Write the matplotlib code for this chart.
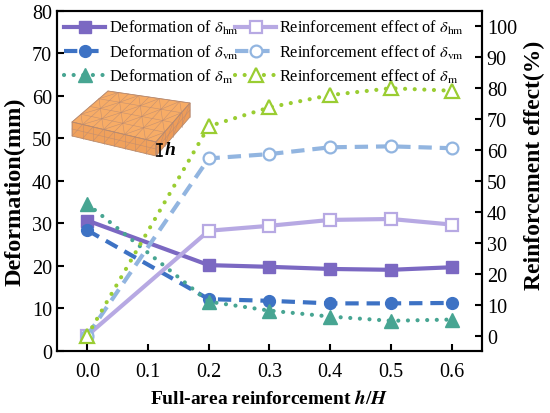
import numpy as np
import matplotlib
matplotlib.use("Agg")
from matplotlib import pyplot as plt
from matplotlib.patches import Polygon

plt.rcParams['font.family'] = ['Liberation Serif', 'DejaVu Serif']
plt.rcParams['mathtext.fontset'] = 'stix'

# data
h_ratio = [0.0, 0.2, 0.3, 0.4, 0.5, 0.6]
def_hm = [30.7, 20.2, 19.8, 19.3, 19.1, 19.7]
def_vm = [28.4, 12.2, 11.8, 11.2, 11.2, 11.3]
def_m = [34.6, 11.6, 9.5, 8.1, 7.1, 7.4]
eff_hm = [0.0, 33.9, 35.5, 37.4, 37.7, 35.9]
eff_vm = [0.0, 57.3, 58.7, 60.9, 61.2, 60.6]
eff_m = [0.0, 67.7, 73.8, 77.8, 80.0, 79.2]
x_ticks = [0.0, 0.1, 0.2, 0.3, 0.4, 0.5, 0.6]

c_hm, c_hm_l = '#7B68C2', '#B7A9E3'
c_vm, c_vm_l = '#3D72C4', '#92B5E0'
c_m, c_m_l = '#47A592', '#9ACD32'

fig = plt.figure(figsize=(5.5, 4.14), dpi=100)
ax = fig.add_axes([0.1036, 0.1498, 0.7727, 0.8213])
ax2 = ax.twinx()

lw = 3
ms = 8.5
dot = (0, (0.01, 2.3))
dash = (0, (3.2, 1.9))

l1, = ax.plot(h_ratio, def_hm, color=c_hm, lw=lw, marker='s', ms=ms)
l2, = ax.plot(h_ratio, def_vm, color=c_vm, lw=lw, marker='o', ms=ms, linestyle=dash)
l3, = ax.plot(h_ratio, def_m, color=c_m, lw=lw, marker='^', ms=ms + 1,
              linestyle=dot, dash_capstyle='round')
l4, = ax2.plot(h_ratio, eff_hm, color=c_hm_l, lw=lw, marker='s', ms=ms,
               mfc='white', mew=1.6)
l5, = ax2.plot(h_ratio, eff_vm, color=c_vm_l, lw=lw, marker='o', ms=ms,
               mfc='white', mew=1.6, linestyle=dash)
l6, = ax2.plot(h_ratio, eff_m, color=c_m_l, lw=lw, marker='^', ms=ms + 2,
               mfc='white', mew=1.6, linestyle=dot, dash_capstyle='round')

ax.set_xlim(-0.05, 0.65)
ax.set_ylim(0, 80)
ax2.set_ylim(-5, 105)
ax.set_xticks(x_ticks)
ax.set_xticklabels([f'{v:.1f}' for v in x_ticks])
ax.set_yticks(range(0, 81, 10))
ax2.set_yticks(range(0, 101, 10))

for a in (ax, ax2):
    for s in a.spines.values():
        s.set_linewidth(1.5)
    a.tick_params(direction='in', length=5, width=1.5, labelsize=14.5)
ax.tick_params(axis='x', pad=8)

ax.set_xlabel(r'Full-area reinforcement $\mathbfit{h}$/$\mathbfit{H}$',
              fontsize=14, fontweight='bold', labelpad=6)
ax.set_ylabel('Deformation(mm)', fontsize=17.5, fontweight='bold')
ax2.set_ylabel('Reinforcement effect(%)', fontsize=17, fontweight='bold')
ax.yaxis.set_label_coords(-0.073, 0.47)
ax2.yaxis.set_label_coords(1.099, 0.55)

labels = [r'Deformation of $\delta_{\rm hm}$', r'Deformation of $\delta_{\rm vm}$',
          r'Deformation of $\delta_{\rm m}$',
          r'Reinforcement effect of $\delta_{\rm hm}$',
          r'Reinforcement effect of $\delta_{\rm vm}$',
          r'Reinforcement effect of $\delta_{\rm m}$']
ax2.legend([l1, l2, l3, l4, l5, l6], labels, ncol=2, loc='upper left',
           bbox_to_anchor=(0.0, 1.0), frameon=False, fontsize=11.8,
           handlelength=2.5, handletextpad=0.2, columnspacing=-0.2,
           labelspacing=0.38, borderaxespad=0.2, borderpad=0.25)

# inset sketch of the reinforced slab (pixel coordinates)
ov = fig.add_axes([0, 0, 1, 1], zorder=5)
ov.set_xlim(0, 550)
ov.set_ylim(414, 0)
ov.axis('off')
A, B, C, D = map(np.array, [(72, 123), (108, 92), (190, 104), (156, 143)])
drop = 14
Ad, Cd, Dd = A + (0, drop), C + (0, drop), D + (0, drop)
ov.add_patch(Polygon([A, B, C, D], closed=True, fc='#F7AC66', ec='#B98A6A', lw=0.6))
ov.add_patch(Polygon([A, D, Dd, Ad], closed=True, fc='#F0A15C', ec='#B98A6A', lw=0.6))
ov.add_patch(Polygon([D, C, Cd, Dd], closed=True, fc='#EE9C58', ec='#B98A6A', lw=0.6))


def bil(p00, p10, p11, p01, u, v):
    return (1 - u) * (1 - v) * p00 + u * (1 - v) * p10 + u * v * p11 + (1 - u) * v * p01


mesh_kw = dict(color='#B98A72', lw=0.4, alpha=0.8)
nu, nv = 8, 4
for i in range(nu + 1):
    p, q = bil(A, D, C, B, i / nu, 0), bil(A, D, C, B, i / nu, 1)
    ov.plot([p[0], q[0]], [p[1], q[1]], **mesh_kw)
for j in range(nv + 1):
    p, q = bil(A, D, C, B, 0, j / nv), bil(A, D, C, B, 1, j / nv)
    ov.plot([p[0], q[0]], [p[1], q[1]], **mesh_kw)
for i in range(nu):
    for j in range(nv):
        if (i + j) % 2:
            p, q = bil(A, D, C, B, i / nu, j / nv), bil(A, D, C, B, (i + 1) / nu, (j + 1) / nv)
        else:
            p, q = bil(A, D, C, B, (i + 1) / nu, j / nv), bil(A, D, C, B, i / nu, (j + 1) / nv)
        ov.plot([p[0], q[0]], [p[1], q[1]], **mesh_kw)
for face, n in (((A, D, Dd, Ad), nu), ((D, C, Cd, Dd), nv)):
    P0, P1, P2, P3 = face
    for i in range(n + 1):
        p, q = bil(P0, P1, P2, P3, i / n, 0), bil(P0, P1, P2, P3, i / n, 1)
        ov.plot([p[0], q[0]], [p[1], q[1]], **mesh_kw)
    for i in range(n):
        p, q = bil(P0, P1, P2, P3, i / n, 1), bil(P0, P1, P2, P3, (i + 1) / n, 0)
        ov.plot([p[0], q[0]], [p[1], q[1]], **mesh_kw)
    p, q = bil(P0, P1, P2, P3, 0, 0.5), bil(P0, P1, P2, P3, 1, 0.5)
    ov.plot([p[0], q[0]], [p[1], q[1]], **mesh_kw)

# thickness marker
ov.plot([159.5, 159.5], [145, 157], color='black', lw=1.2)
ov.plot([157, 162], [145, 145], color='black', lw=1.2)
ov.plot([157, 162], [157, 157], color='black', lw=1.2)
ov.text(165, 151, 'h', fontsize=14, fontweight='bold', fontstyle='italic',
        va='center', ha='left')

fig.savefig('out.png', dpi=100)
